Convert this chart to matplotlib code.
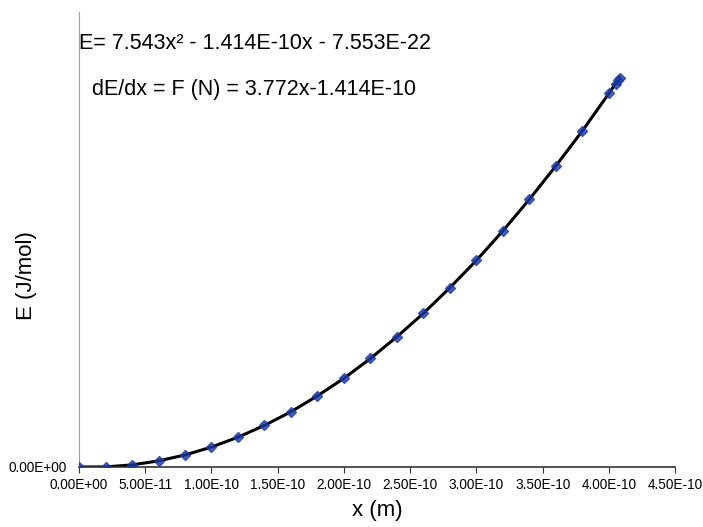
import numpy as np
import matplotlib
matplotlib.use("Agg")
import matplotlib.pyplot as plt

plt.rcParams["font.family"] = ["Liberation Sans", "DejaVu Sans"]

# x in m, E in J/mol
x_vals = [0.0, 2e-11, 4e-11, 6e-11, 8e-11, 1.0e-10, 1.2e-10, 1.4e-10, 1.6e-10,
          1.8e-10, 2.0e-10, 2.2e-10, 2.4e-10, 2.6e-10, 2.8e-10, 3.0e-10,
          3.2e-10, 3.4e-10, 3.6e-10, 3.8e-10, 4.0e-10, 4.05e-10, 4.07e-10, 4.08e-10]
e_vals = [0.0, 0.2e-21, 6.4e-21, 18.7e-21, 37.0e-21, 61.3e-21, 91.7e-21, 128e-21,
          170e-21, 219e-21, 273e-21, 334e-21, 401e-21, 473e-21, 552e-21, 636e-21,
          727e-21, 824e-21, 927e-21, 1035e-21, 1150e-21, 1180e-21, 1192e-21, 1198e-21]

eq_text = "E= 7.543x² - 1.414E-10x - 7.553E-22"
deriv_text = "dE/dx = F (N) = 3.772x-1.414E-10"
x_ticks = np.arange(0, 4.51e-10, 0.5e-10)

fig = plt.figure(figsize=(7.03, 5.27), dpi=100)
ax = fig.add_axes([0.1124, 0.1139, 0.848, 0.863])

ax.plot(x_vals, e_vals, color="black", linewidth=2.2, zorder=2)
ax.plot(x_vals, e_vals, linestyle="none", marker="D", markersize=5,
        color="#1c3aa6", alpha=0.8, zorder=3)

ax.set_xlim(0, 4.5e-10)
ax.set_ylim(0, 1.4e-18)
ax.set_xticks(x_ticks)
ax.set_xticklabels([f"{t:.2E}" for t in x_ticks], fontsize=9.8)
ax.set_yticks([0])
ax.set_yticklabels(["0.00E+00"], fontsize=9.8)
ax.tick_params(axis="y", length=0, pad=9)
ax.tick_params(axis="x", direction="out", length=4, color="#333333", pad=4)

for s in ["top", "right"]:
    ax.spines[s].set_visible(False)
ax.spines["left"].set_color("#a0a0a0")
ax.spines["bottom"].set_color("#333333")
ax.spines["bottom"].set_linewidth(1.2)

ax.set_xlabel("x (m)", fontsize=16, labelpad=6)
ax.set_ylabel("E (J/mol)", fontsize=16)
ax.yaxis.set_label_coords(-0.07, 0.42)

ax.text(0.0, 0.932, eq_text, transform=ax.transAxes, fontsize=15.5, va="center")
ax.text(0.022, 0.83, deriv_text, transform=ax.transAxes, fontsize=15.5, va="center")

fig.savefig("out.png", dpi=100)
